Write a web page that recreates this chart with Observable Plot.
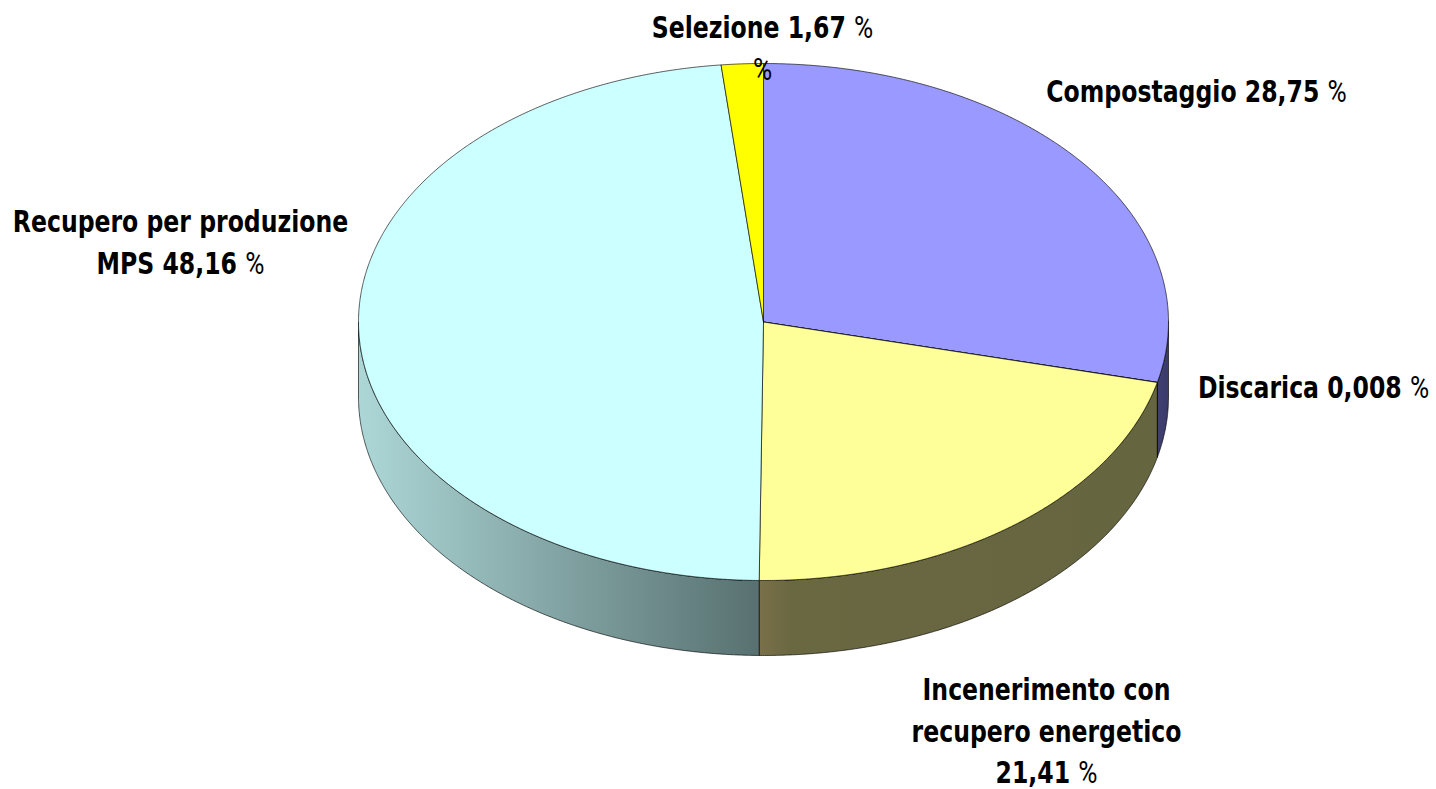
<!DOCTYPE html>
<html><head><meta charset="utf-8">
<script src="https://cdn.jsdelivr.net/npm/d3@7"></script>
<script src="https://cdn.jsdelivr.net/npm/@observablehq/plot@0.6"></script>
<style>html,body{margin:0;padding:0;background:#fff;overflow:hidden}</style>
</head><body><div id="chart"></div>
<script>
// ---- data ----
const categories = ["Compostaggio", "Discarica", "Incenerimento con recupero energetico", "Recupero per produzione MPS", "Selezione"];
const values = [28.75, 0.008, 21.41, 48.16, 1.67];
const labelTexts = [
  "Compostaggio 28,75 %",
  "Discarica 0,008 %",
  "Incenerimento con\nrecupero energetico\n21,41 %",
  "Recupero per produzione\nMPS 48,16 %",
  "Selezione 1,67 %\n%"
];
const topColors = ["#9999FF", "#993366", "#FFFF99", "#CCFFFF", "#FFFF00"];
const sideGradients = [
  [["0", "#3f3f72"], ["1", "#3b3b6a"]],
  [["0", "#4d1a33"], ["1", "#4d1a33"]],
  [["0", "#7a7049"], ["0.08", "#6a6841"], ["1", "#656540"]],
  [["0", "#add7d7"], ["1", "#587070"]],
  [["0", "#808000"], ["1", "#808000"]]
];

// ---- layout ----
const W = 1436, H = 789;
const CX = 763, CY = 321.5, RX = 405, RY = 258.5, DEPTH = 75;
const depthU = DEPTH / RY;
const labelPos = [[1196, 88], [1313, 384], [1046, 728], [180, 239], [762, 45]];
const FONT = "'DejaVu Sans Condensed', 'DejaVu Sans', sans-serif";
const PCT_FONT = "Roboto, 'Liberation Sans', sans-serif";
const SCALE_X = 0.845;

// ---- geometry from data ----
const total = d3.sum(values);
let acc = 0;
const slices = values.map((v, i) => {
  const a = acc / total * 2 * Math.PI;
  acc += v;
  const b = acc / total * 2 * Math.PI;
  return {i, a, b};
});
const STEP = Math.PI / 720;
function arc(t0, t1) {
  const n = Math.max(2, Math.ceil(Math.abs(t1 - t0) / STEP) + 1);
  const pts = [];
  for (let k = 0; k < n; k++) {
    const t = t0 + (t1 - t0) * k / (n - 1);
    pts.push([Math.sin(t), Math.cos(t)]);
  }
  return pts;
}
const walls = [];
const tops = [];
for (const s of slices) {
  const lo = Math.max(s.a, Math.PI / 2), hi = Math.min(s.b, 3 * Math.PI / 2);
  if (hi > lo) {
    const topArc = arc(lo, hi);
    const botArc = arc(hi, lo).map(([x, y]) => [x, y - depthU]);
    const pts = [...topArc, ...botArc, topArc[0]].map(([x, y]) => ({x, y, i: s.i}));
    walls.push({i: s.i, pts});
  }
  const pts = [[0, 0], ...arc(s.a, s.b), [0, 0]].map(([x, y]) => ({x, y, i: s.i}));
  tops.push({i: s.i, pts});
}
const labels = labelTexts.map((t, i) => ({
  text: t,
  x: (labelPos[i][0] - CX) / RX,
  y: (CY - labelPos[i][1]) / RY
}));

const marks = [];
for (const w of walls) {
  marks.push(Plot.line(w.pts, {x: "x", y: "y", fill: `url(#side${w.i})`, stroke: "#000", strokeWidth: 0.8, strokeOpacity: 0.8}));
}
for (const t of tops) {
  marks.push(Plot.line(t.pts, {x: "x", y: "y", fill: topColors[t.i], stroke: "#000", strokeWidth: 0.8, strokeOpacity: 0.8}));
}
marks.push(Plot.text(labels, {
  x: "x", y: "y", text: "text",
  fontSize: 31, fontWeight: "bold", fontFamily: FONT,
  lineHeight: 1.34, textAnchor: "middle", fill: "#000",
  className: "pie-label"
}));

const svg = Plot.plot({
  width: W, height: H,
  marginTop: 0, marginRight: 0, marginBottom: 0, marginLeft: 0,
  x: {domain: [-1, 1], range: [CX - RX, CX + RX], axis: null},
  y: {domain: [-1, 1], range: [CY + RY, CY - RY], axis: null},
  style: {background: "#fff", overflow: "visible"},
  marks
});

// gradients for the side walls
const NS = "http://www.w3.org/2000/svg";
const defs = document.createElementNS(NS, "defs");
sideGradients.forEach((stops, i) => {
  const g = document.createElementNS(NS, "linearGradient");
  g.setAttribute("id", `side${i}`);
  g.setAttribute("x1", "0"); g.setAttribute("x2", "1");
  g.setAttribute("y1", "0"); g.setAttribute("y2", "0");
  for (const [o, c] of stops) {
    const st = document.createElementNS(NS, "stop");
    st.setAttribute("offset", o); st.setAttribute("stop-color", c);
    g.appendChild(st);
  }
  defs.appendChild(g);
});
svg.insertBefore(defs, svg.firstChild);

// condensed look + percent signs in regular weight
svg.querySelectorAll("g.pie-label text").forEach(t => {
  const tr = t.getAttribute("transform") || "";
  t.setAttribute("transform", `${tr} scale(${SCALE_X},1)`);
  const spans = t.querySelectorAll("tspan");
  const targets = spans.length ? Array.from(spans) : [t];
  targets.forEach(el => {
    const s = el.textContent;
    if (!s.includes("%")) return;
    el.textContent = "";
    const parts = s.split("%");
    parts.forEach((part, k) => {
      if (part) el.appendChild(document.createTextNode(part));
      if (k < parts.length - 1) {
        const sp = document.createElementNS(NS, "tspan");
        sp.setAttribute("font-weight", "normal");
        sp.setAttribute("font-family", PCT_FONT);
        sp.textContent = "%";
        el.appendChild(sp);
      }
    });
  });
});

document.getElementById("chart").appendChild(svg);
</script>
</body></html>
